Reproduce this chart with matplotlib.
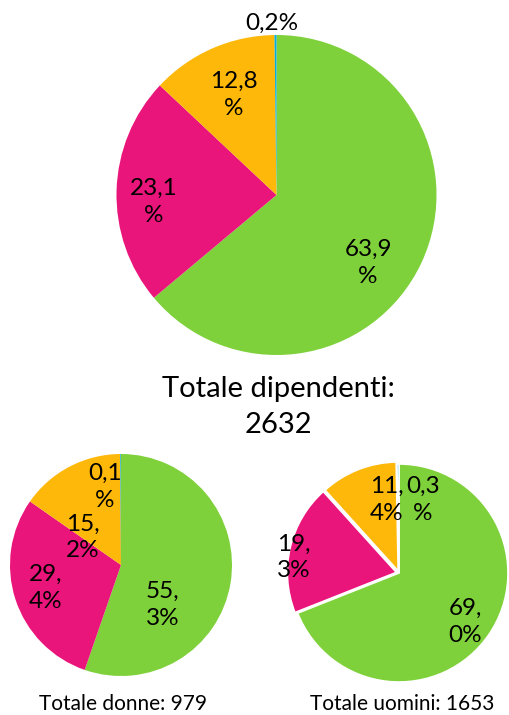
import matplotlib
matplotlib.use("Agg")
import matplotlib.pyplot as plt

plt.rcParams['font.family'] = ['Lato', 'DejaVu Sans']

# slice order: green, magenta, orange, teal (clockwise from 12 o'clock)
colors = ['#7fd13b', '#ea157a', '#feb80a', '#00addc']

tot_vals = [63.9, 23.1, 12.8, 0.2]
tot_labels = ['63,9\n%', '23,1\n%', '12,8\n%', '0,2%']
donne_vals = [55.3, 29.4, 15.2, 0.1]
donne_labels = ['55,\n3%', '29,\n4%', '15,\n2%', '0,1\n%']
uomini_vals = [69.0, 19.3, 11.4, 0.3]
uomini_labels = ['69,\n0%', '19,\n3%', '11,\n4%', '0,3\n%']

W, H = 509, 715
fig = plt.figure(figsize=(W / 100, H / 100), dpi=100)


def pie_axes(cx, cy, r):
    # cx, cy, r in pixels (origin top-left)
    return fig.add_axes([(cx - r) / W, (H - cy - r) / H, 2 * r / W, 2 * r / H])


def draw_pie(ax, vals, labels, label_pos, explode=None, edge=None, fs=17.5):
    wp = {'linewidth': 0}
    if edge:
        wp = {'edgecolor': 'white', 'linewidth': edge}
    ax.pie(vals, colors=colors, startangle=90, counterclock=False,
           explode=explode, wedgeprops=wp)
    for lab, (x, y) in zip(labels, label_pos):
        ax.text(x, y, lab, ha='center', va='center', fontsize=fs,
                linespacing=1.35, color='black')
    ax.set_xlim(-1, 1)
    ax.set_ylim(-1, 1)
    ax.set_aspect('equal')
    ax.axis('off')


ax1 = pie_axes(276.5, 195, 160)
draw_pie(ax1, tot_vals, tot_labels,
         [(0.572, -0.425), (-0.766, -0.044), (-0.266, 0.625), (-0.028, 1.075)])

ax2 = pie_axes(121, 565, 111)
draw_pie(ax2, donne_vals, donne_labels,
         [(0.378, -0.36), (-0.676, -0.207), (-0.342, 0.248), (-0.144, 0.703)])

ax3 = pie_axes(399, 573, 109)
draw_pie(ax3, uomini_vals, uomini_labels,
         [(0.606, -0.447), (-0.963, 0.142), (-0.11, 0.67), (0.22, 0.67)],
         explode=[0, 0.025, 0.02, 0], edge=1.2)

fig.text(278 / W, 1 - 407 / H, 'Totale dipendenti:\n2632', ha='center',
         va='center', fontsize=21, linespacing=1.45)
fig.text(123 / W, 1 - 704 / H, 'Totale donne: 979', ha='center',
         va='center', fontsize=15)
fig.text(402 / W, 1 - 704 / H, 'Totale uomini: 1653', ha='center',
         va='center', fontsize=15)

fig.savefig('out.png', dpi=100)
